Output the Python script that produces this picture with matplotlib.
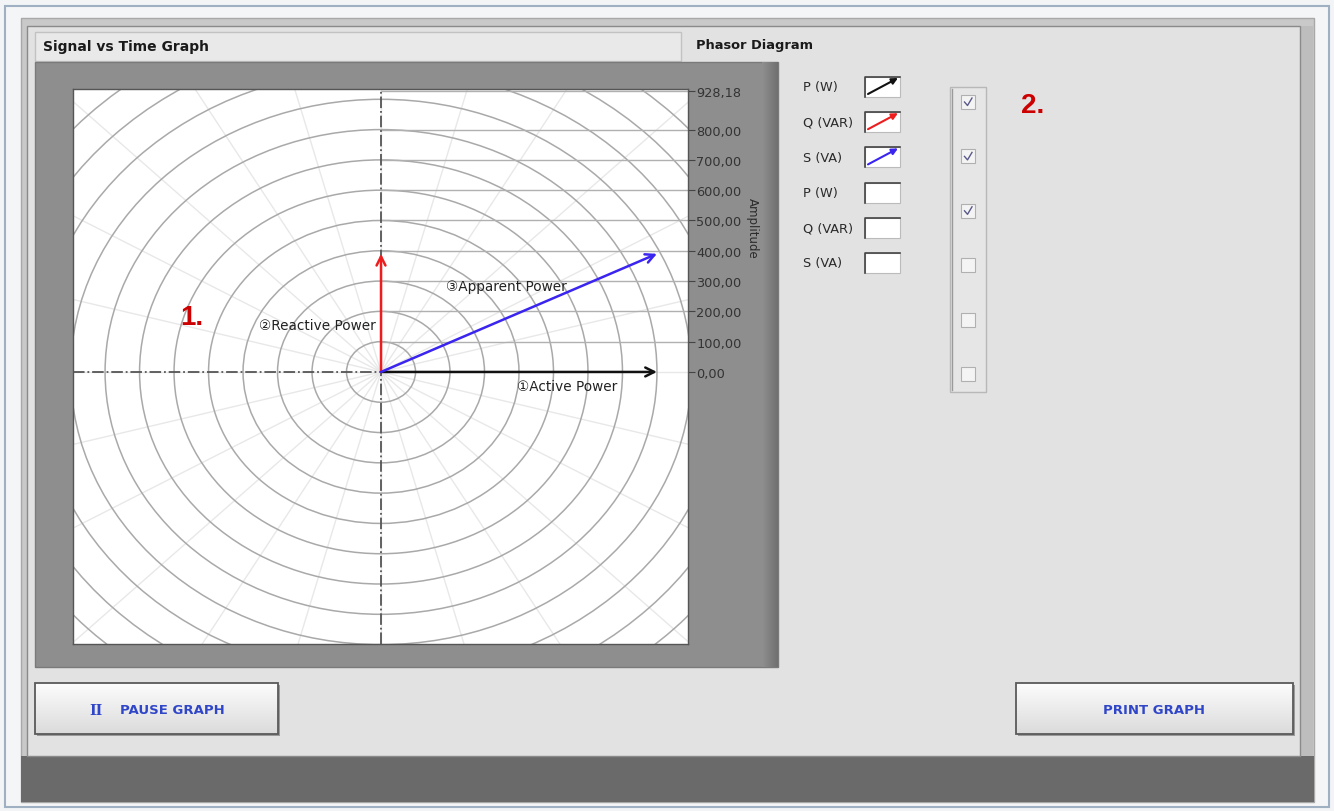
import numpy as np
import matplotlib
matplotlib.use('Agg')
import matplotlib.pyplot as plt
from matplotlib.patches import Rectangle, Circle

plt.rcParams['font.family'] = ['DejaVu Sans', 'Noto Sans CJK JP']

# datos del diagrama fasorial
active_p = 800.0      # P (W)
reactive_q = 390.0    # Q (VAR)
phasor_labels = ['\u2460Active Power', '\u2461Reactive Power', '\u2462Apparent Power']
phasor_colors = ['#111111', '#ee1c1c', '#3a24f0']

amp_ticks = [0, 100, 200, 300, 400, 500, 600, 700, 800, 928.18]
amp_labels = ['0,00', '100,00', '200,00', '300,00', '400,00', '500,00',
              '600,00', '700,00', '800,00', '928,18']
circle_radii = np.arange(100, 1400, 100)
spoke_angles = np.arange(0, 360, 15)

legend_labels = ['P (W)', 'Q (VAR)', 'S (VA)', 'P (W)', 'Q (VAR)', 'S (VA)']
legend_arrows = ['#111111', '#ee1c1c', '#3a24f0', None, None, None]
checked = [True, True, True, False, False, False]

W, H = 1334, 812
fig = plt.figure(figsize=(W / 100, H / 100), dpi=100)
fig.patch.set_facecolor('#f2f4f6')

# capa de interfaz en pixeles
ui = fig.add_axes([0, 0, 1, 1])
ui.set_xlim(0, W)
ui.set_ylim(H, 0)
ui.axis('off')

def rect(x0, y0, x1, y1, fc, ec='none', lw=1, z=1):
    ui.add_patch(Rectangle((x0, y0), x1 - x0, y1 - y0, facecolor=fc,
                           edgecolor=ec, linewidth=lw, zorder=z))

rect(5, 7, 1329, 808, '#f4f5f7', '#9fb0c2', 1.5, 0.5)
rect(21, 19, 1314, 803, '#c9c9c9', '#a8a8a8', 1, 1)
rect(21, 757, 1314, 803, '#6a6a6a', z=1.2)
rect(27, 27, 1300, 757, '#e2e2e2', '#8a8a8a', 1, 1.5)
rect(1300, 27, 1313, 757, '#bdbdbd', z=1.4)

# cabecera
rect(35, 33, 681, 62, '#e9e9e9', '#c2c2c2', 1, 2)
ui.text(43, 47, 'Signal vs Time Graph', fontsize=10, fontweight='bold',
        color='#1a1a1a', va='center', zorder=3)
ui.text(696, 45, 'Phasor Diagram', fontsize=9.4, fontweight='bold',
        color='#1a1a1a', va='center', zorder=3)

# marco del grafico
rect(35, 63, 778, 668, '#8e8e8e', '#7a7a7a', 1, 2)
shade = np.linspace(0.56, 0.44, 20).reshape(1, -1)
ui.imshow(shade, extent=(762, 778, 668, 63), cmap='gray', vmin=0, vmax=1,
          aspect='auto', zorder=2.1)
ui.text(752, 228, 'Amplitude', fontsize=8.5, rotation=270, color='#2a2a2a',
        ha='center', va='center', zorder=3)

ui.text(1021, 106, '2.', fontsize=20, fontweight='bold', color='#cc0000',
        family='Liberation Sans', va='center', zorder=3)

# leyenda
for i, lab in enumerate(legend_labels):
    yc = 88 + i * 35.2
    ui.text(803, yc, lab, fontsize=9.3, color='#2a2a2a', va='center', zorder=3)
    rect(865, yc - 10, 900, yc + 10, '#ffffff', '#bbbbbb', 0.8, 3)
    ui.plot([865, 865, 900], [yc + 10, yc - 10, yc - 10], color='#444444',
            lw=1.2, zorder=4)
    if legend_arrows[i]:
        ui.annotate('', xy=(898, yc - 9), xytext=(868, yc + 7), zorder=5,
                    arrowprops=dict(arrowstyle='-|>', color=legend_arrows[i],
                                    lw=1.5, mutation_scale=9,
                                    shrinkA=0, shrinkB=0))

# columna de casillas
rect(950, 88, 986, 393, '#e6e6e6', '#b8b8b8', 1, 2)
ui.plot([952, 952], [90, 391], color='#9a9a9a', lw=1, zorder=3)
for i, on in enumerate(checked):
    yc = 103 + i * 54.4
    rect(961, yc - 7, 975, yc + 7, '#f4f4f4', '#b0b0b0', 0.8, 3)
    if on:
        ui.plot([964.5, 967.5, 972], [yc, yc + 3.5, yc - 4], color='#5a5a8a',
                lw=1.0, zorder=4)

# botones
def button(x0, x1, y0, y1):
    g = np.linspace(0.99, 0.86, 40)
    img = np.dstack([g, g, g]).reshape(-1, 1, 3)
    ui.imshow(img, extent=(x0, x1, y1, y0), aspect='auto', zorder=3)
    rect(x0 + 2, y0 + 2, x1 + 2, y1 + 2, '#9a9a9a', z=2.8)
    rect(x0, y0, x1, y1, 'none', '#5a5a5a', 1.3, 4)

button(35, 278, 684, 735)
button(1016, 1293, 684, 735)
ui.text(89, 711, 'II', fontsize=10, fontweight='bold', family='DejaVu Serif',
        color='#3046c8', va='center', zorder=5)
ui.text(120, 711, 'PAUSE GRAPH', fontsize=9.5, fontweight='bold',
        color='#3046c8', va='center', zorder=5)
ui.text(1154, 711, 'PRINT GRAPH', fontsize=9.5, fontweight='bold',
        color='#3046c8', ha='center', va='center', zorder=5)

# diagrama fasorial
ax = fig.add_axes([73 / W, 1 - 645 / H, 615 / W, 555 / H])
ax.set_facecolor('white')
ax.set_xlim(-893, 890)
ax.set_ylim(-898, 934)

for a in spoke_angles:
    t = np.deg2rad(a)
    ax.plot([0, 1500 * np.cos(t)], [0, 1500 * np.sin(t)], color='#e8e8e8',
            lw=1, zorder=1)
for r in circle_radii:
    ax.add_patch(Circle((0, 0), r, fill=False, edgecolor='#a9a9a9', lw=1.1,
                        zorder=2))
ax.hlines(amp_ticks[1:], 0, 890, color='#b0b0b0', lw=1, zorder=2)

ax.plot([-893, 0], [0, 0], color='#555555', lw=1.3, ls='-.', zorder=3)
ax.plot([0, 0], [-898, 934], color='#555555', lw=1.3, ls='-.', zorder=3)

tips = [(active_p, 0), (0, reactive_q), (active_p, reactive_q)]
for (x, y), c in zip(tips, phasor_colors):
    ax.annotate('', xy=(x, y), xytext=(0, 0), zorder=5,
                arrowprops=dict(arrowstyle='->', color=c, lw=1.8,
                                mutation_scale=16, shrinkA=0, shrinkB=0))

ax.text(394, -45, phasor_labels[0], fontsize=9.8, color='#222222', va='center',
        zorder=6)
ax.text(-15, 155, phasor_labels[1], fontsize=9.8, color='#222222', va='center',
        ha='right', zorder=6)
ax.text(188, 284, phasor_labels[2], fontsize=9.8, color='#222222', va='center',
        zorder=6)
ax.text(-583, 180, '1.', fontsize=20, fontweight='bold', color='#cc0000',
        family='Liberation Sans', va='center', zorder=6)

ax.set_xticks([])
ax.yaxis.tick_right()
ax.set_yticks(amp_ticks)
ax.set_yticklabels(amp_labels)
ax.tick_params(axis='y', direction='out', length=5, pad=1, labelsize=9.3,
               color='#444444', labelcolor='#333333')
for s in ax.spines.values():
    s.set_color('#555555')
    s.set_linewidth(1)

fig.savefig('out.png', dpi=100, facecolor=fig.get_facecolor())
